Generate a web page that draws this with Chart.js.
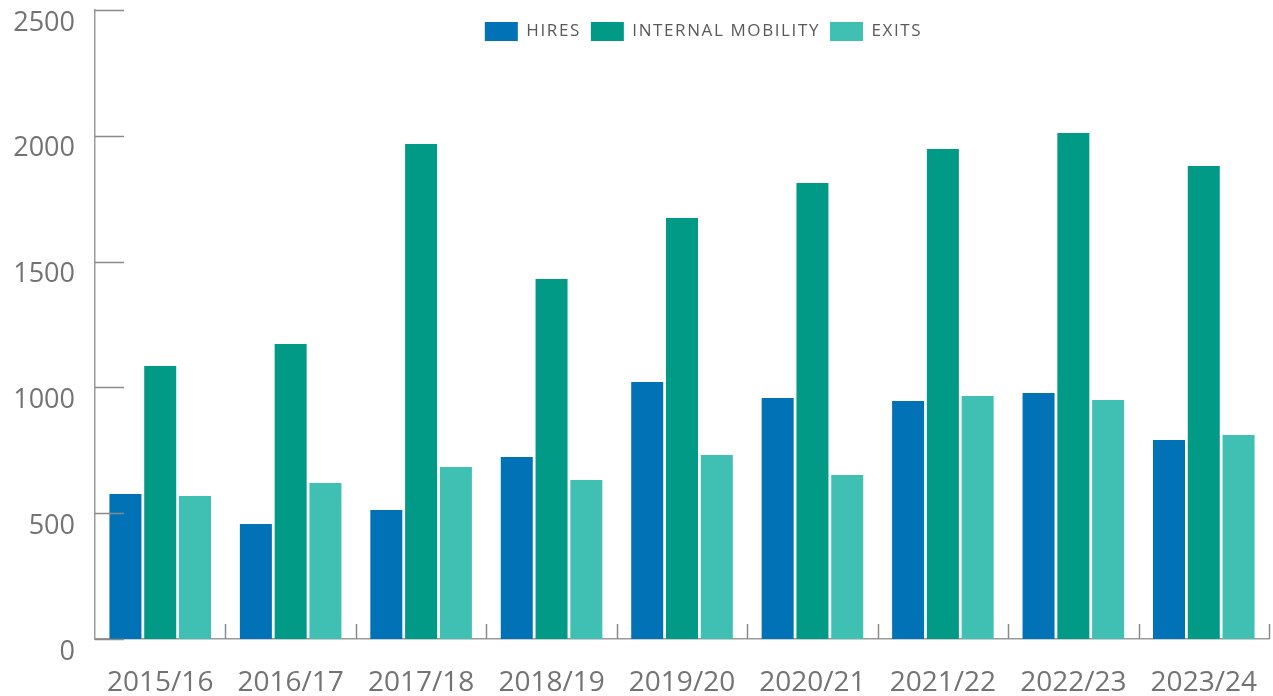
<!DOCTYPE html>
<html lang="en">
<head>
    <meta charset="UTF-8">
    <title>Hires, internal mobility and exits</title>
    <script src="https://cdn.jsdelivr.net/npm/chart.js"></script>
    <style>
        html, body { margin: 0; padding: 0; background: #fff; }
        #wrap { width: 1273px; height: 696px; }
    </style>
</head>
<body>
    <div id="wrap"><canvas id="chartCanvas"></canvas></div>

    <script>
        var years = ['2015/16', '2016/17', '2017/18', '2018/19', '2019/20', '2020/21', '2021/22', '2022/23', '2023/24'];
        var hires = [576, 457, 513, 723, 1021, 958, 946, 978, 791];
        var internalMobility = [1085, 1172, 1967, 1431, 1673, 1812, 1948, 2011, 1880];
        var exits = [568, 620, 684, 632, 731, 652, 966, 950, 811];
        var yTicks = [0, 500, 1000, 1500, 2000, 2500];

        var axisGrey = '#9a9a9a';
        var textGrey = '#737373';

        // tick marks pointing into the plot: y ticks to the right, x ticks upward
        var innerTicks = {
            id: 'innerTicks',
            afterDraw: function (chart) {
                var ctx = chart.ctx;
                var x = chart.scales.x, y = chart.scales.y;
                ctx.save();
                ctx.strokeStyle = '#8a8a8a';
                ctx.lineWidth = 1.5;
                ctx.beginPath();
                y.ticks.forEach(function (t) {
                    var py = Math.round(y.getPixelForValue(t.value)) + 0.5;
                    ctx.moveTo(x.left, py);
                    ctx.lineTo(x.left + 29, py);
                });
                for (var i = 0; i < years.length; i++) {
                    var bx = i < years.length - 1
                        ? (x.getPixelForValue(i) + x.getPixelForValue(i + 1)) / 2
                        : x.right;
                    bx = Math.round(bx) + 0.5;
                    ctx.moveTo(bx, y.bottom);
                    ctx.lineTo(bx, y.bottom - 15);
                }
                ctx.stroke();
                ctx.restore();
            }
        };

        // legend floats over the plot area without taking layout space,
        // with a little letter spacing like the original
        var floatLegend = {
            id: 'floatLegend',
            afterInit: function (chart) {
                var lg = chart.legend;
                var fit = lg.fit;
                lg.fit = function () {
                    var c = this.ctx;
                    c.save();
                    c.letterSpacing = '1.6px';
                    fit.call(this);
                    c.restore();
                    this.height = 0;
                };
                lg.draw = function () {
                    var c = this.ctx;
                    c.save();
                    c.letterSpacing = '1.6px';
                    c.translate(69, 2);
                    this._draw();
                    c.restore();
                };
            }
        };

        var ctx = document.getElementById('chartCanvas').getContext('2d');
        new Chart(ctx, {
            type: 'bar',
            data: {
                labels: years,
                datasets: [
                    { label: 'HIRES', data: hires, backgroundColor: '#0072b5' },
                    { label: 'INTERNAL MOBILITY', data: internalMobility, backgroundColor: '#009a87' },
                    { label: 'EXITS', data: exits, backgroundColor: '#40bfb3' }
                ]
            },
            plugins: [innerTicks, floatLegend],
            options: {
                responsive: true,
                maintainAspectRatio: false,
                animation: false,
                datasets: { bar: { categoryPercentage: 0.8, barPercentage: 0.92 } },
                layout: { padding: { top: 10, right: 4, left: 0, bottom: 0 } },
                plugins: {
                    tooltip: { enabled: false },
                    legend: {
                        position: 'top',
                        align: 'center',
                        labels: {
                            boxWidth: 33,
                            boxHeight: 19,
                            padding: 10,
                            color: '#595959',
                            font: { family: 'Open Sans', size: 17 }
                        }
                    }
                },
                scales: {
                    x: {
                        afterFit: function (s) { s.height = 57; s.paddingLeft = 0; s.paddingRight = 0; },
                        grid: { display: false, drawTicks: false },
                        border: { color: axisGrey, width: 1.5 },
                        ticks: {
                            color: textGrey,
                            padding: 27,
                            font: { family: 'Open Sans', size: 28 }
                        }
                    },
                    y: {
                        min: 0,
                        max: 2500,
                        afterFit: function (s) { s.width = 95; s.paddingTop = 0; s.paddingBottom = 0; },
                        afterBuildTicks: function (s) {
                            s.ticks = yTicks.map(function (v) { return { value: v }; });
                        },
                        grid: { display: false, drawTicks: false },
                        border: { color: axisGrey, width: 1.5 },
                        ticks: {
                            color: textGrey,
                            padding: 20,
                            labelOffset: 13,
                            callback: function (v) { return String(v); },
                            font: { family: 'Open Sans', size: 27 }
                        }
                    }
                }
            }
        });
    </script>
</body>
</html>
